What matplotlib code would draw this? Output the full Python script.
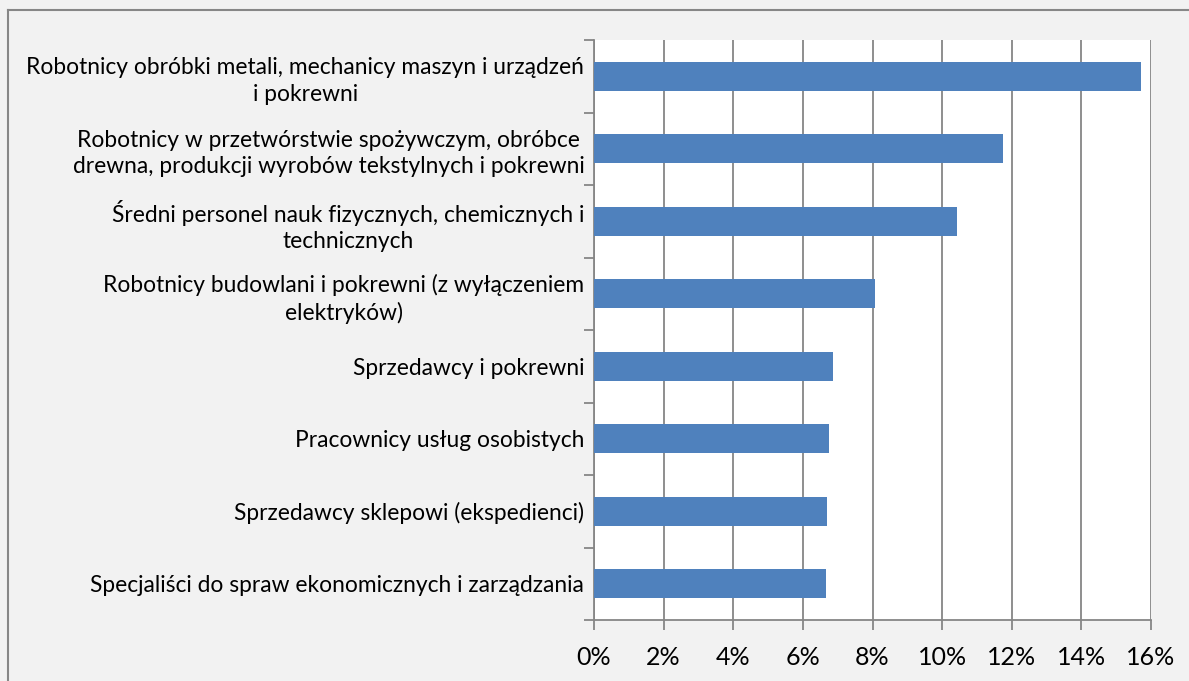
import matplotlib.pyplot as plt
from matplotlib.lines import Line2D
from matplotlib.ticker import FixedLocator, PercentFormatter

# Occupational groups, top to bottom, with their share (%)
categories = [
    "Robotnicy obróbki metali, mechanicy maszyn i urządzeń\ni pokrewni",
    "Robotnicy w przetwórstwie spożywczym, obróbce\ndrewna, produkcji wyrobów tekstylnych i pokrewni",
    "Średni personel nauk fizycznych, chemicznych i\ntechnicznych",
    "Robotnicy budowlani i pokrewni (z wyłączeniem\nelektryków)",
    "Sprzedawcy i pokrewni",
    "Pracownicy usług osobistych",
    "Sprzedawcy sklepowi (ekspedienci)",
    "Specjaliści do spraw ekonomicznych i zarządzania",
]
values = [15.7, 11.75, 10.43, 8.07, 6.86, 6.75, 6.70, 6.67]
x_ticks = [0, 2, 4, 6, 8, 10, 12, 14, 16]

bar_color = "#4F81BD"
grid_color = "#868686"

plt.rcParams["font.family"] = ["Lato", "DejaVu Sans"]

fig = plt.figure(figsize=(11.89, 6.81), dpi=100, facecolor="#F2F2F2")
ax = fig.add_axes([594 / 1189, 1 - 620 / 681, (1151 - 594) / 1189, 580 / 681])
ax.set_facecolor("white")

n = len(categories)
pos = list(range(n))
ax.barh(pos, values, height=0.4, color=bar_color, zorder=3)

ax.set_ylim(n - 0.5, -0.5)
ax.set_xlim(0, 16)
ax.set_xticks(x_ticks)
ax.xaxis.set_major_formatter(PercentFormatter(decimals=0))
ax.set_yticks(pos)
ax.set_yticklabels(categories, multialignment="center", fontsize=16.4,
                   linespacing=1.32)
ax.yaxis.set_minor_locator(FixedLocator([i - 0.5 for i in range(n + 1)]))

ax.tick_params(axis="y", which="major", length=0, pad=7)
ax.tick_params(axis="y", which="minor", length=7, width=1.3, color=grid_color)
ax.tick_params(axis="x", length=7, width=1.3, color=grid_color,
               labelsize=18, pad=12)

ax.grid(axis="x", color=grid_color, linewidth=1.3, zorder=1)
for side in ["top", "right"]:
    ax.spines[side].set_visible(False)
for side in ["left", "bottom"]:
    ax.spines[side].set_color(grid_color)
    ax.spines[side].set_linewidth(1.3)

# outer chart border (left and top edges visible)
fig.add_artist(Line2D([8 / 1189, 8 / 1189], [0, 1 - 10 / 681],
                      transform=fig.transFigure, color="#878787", linewidth=1.5))
fig.add_artist(Line2D([8 / 1189, 1], [1 - 10 / 681, 1 - 10 / 681],
                      transform=fig.transFigure, color="#878787", linewidth=1.5))

fig.savefig("out.png", dpi=100, facecolor=fig.get_facecolor())
